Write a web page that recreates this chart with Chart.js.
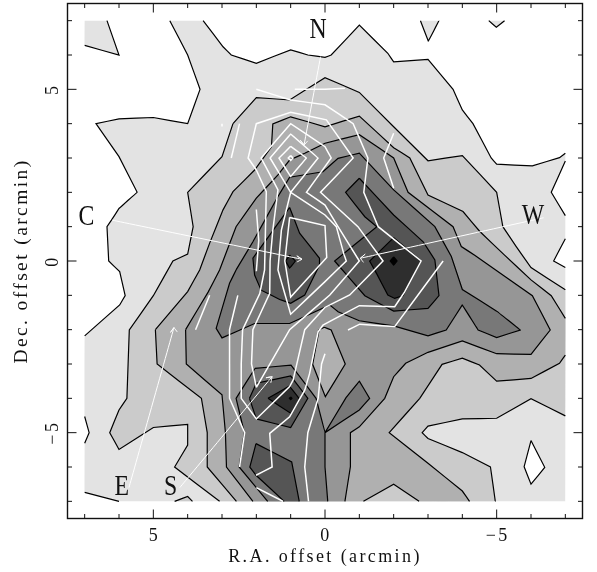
<!DOCTYPE html>
<html>
<head>
<meta charset="utf-8">
<title>Contour map</title>
<script src="https://cdn.jsdelivr.net/npm/chart.js@4/dist/chart.umd.min.js"></script>
<style>
  html, body { margin: 0; padding: 0; background: #fff; }
  canvas { display: block; }
</style>
</head>
<body>
<canvas id="map" width="597" height="572"></canvas>
<script>
// all coordinates are arcmin offsets
const gridEdge = 7;
const axisMax = 7.5;
const labelTicks = [5, 0, -5];
const minorTicks = [-7, -6, -5, -4, -3, -2, -1, 0, 1, 2, 3, 4, 5, 6, 7];
const xTitle = 'R.A. offset (arcmin)';
const yTitle = 'Dec. offset (arcmin)';

// grey contours, lightest level first
const level1 = [[4.52,7],[3.55,7],[2.97,6.24],[2.73,6],[2,5.76],[1,6.15],[0.5,6],[0,5.93],[-0.18,6],[-1,6.87],[-1.83,6.05],[-2,5.8],[-3,5.87],[-3.73,5],[-4,4.4],[-4.31,4],[-4.84,3],[-5,2.82],[-6.04,2.77],[-6.83,3.01],[-7,3.14],[-7,2.91],[-6.59,2],[-7,1.32],[-7,0.65],[-6.66,0],[-7,-0.19],[-7,-7],[6,-7],[7,-6.74],[7,-5.31],[6.87,-5],[7,-4.53],[7,-2.18],[5.98,-1.28],[5.82,-1.01],[5.98,-0.31],[6.3,0],[6.35,1],[6.22,1.19],[6,1.53],[5.47,2],[6,3.04],[6.67,4],[6,4.14],[5,4.18],[4,4],[3.64,5],[4,6],[4.52,7]];
const level1Corner = [[7,7],[6.35,7],[6,6],[7,6.28],[7,7]];
const level1TopA = [[-2.78,7],[-3.32,7],[-3.01,6.4],[-2.78,7]];
const level1TopB = [[-4.77,7],[-5.23,7],[-4.99,6.81],[-4.77,7]];
const holeDiamond = [[-6,-5.23],[-5.8,-5.99],[-6,-6.5],[-6.4,-6.01],[-6,-5.23]];
const level2 = [[2.68,4],[2,4.76],[1.03,4.69],[0,5.34],[-1,4.91],[-2,3.91],[-3,2.92],[-4,3.07],[-5,2],[-5.18,1],[-5.57,0.42],[-6,-0.19],[-7,-0.84],[-7,-4.51],[-6,-4.01],[-5,-4.58],[-4,-4.6],[-3,-4.81],[-2.83,-5],[-3,-5.17],[-4,-5.58],[-4.82,-6],[-4.96,-7],[3.07,-7],[4.38,-6],[4,-5.36],[4,-4.76],[5,-4.85],[6,-5.49],[6.27,-5],[6,-4.34],[5.77,-4],[5.7,-2.01],[5,-1.01],[4.43,0],[4,0.2],[3.84,1],[4,2],[3,3.04],[2.68,4]];
const level2Bump = [[4.38,-7],[4,-6.86],[3.86,-7],[4.38,-7]];
const level3 = [[4.94,-2],[4.89,-3],[3.6,-4],[3.43,-5],[3.43,-6],[2.58,-7],[-1.12,-7],[-2,-6.5],[-2.74,-7],[-4.21,-7],[-4,-6.7],[-3,-5.89],[-1.87,-5],[-2.76,-4],[-3.41,-3.01],[-4,-2.83],[-4.5,-3.03],[-5,-3.5],[-6,-3.42],[-6.83,-2.98],[-7,-2.74],[-7,-1.67],[-6.59,-1.01],[-6,-0.55],[-5.23,0.17],[-4.51,0.86],[-4.02,1.44],[-3,1.92],[-2.47,3],[-2,3.3],[-1,4.22],[0,3.91],[1,4.2],[1.52,3.99],[1.56,3.33],[2.05,2.65],[2.68,2.02],[2.97,1.49],[3.36,0.52],[3.65,-0.26],[4,-0.89],[4.94,-2]];
const level4 = [[4.06,-2],[3.4,-0.9],[3.07,-0.26],[2.59,1],[2,1.83],[1.37,2.51],[1.03,2.94],[0.59,3.14],[0,3.43],[-1,3.68],[-2,3],[-2.42,2],[-3.73,1],[-3.97,0.42],[-4.36,0.17],[-6.04,-1.01],[-6.56,-2.01],[-6,-2.72],[-5,-2.7],[-4,-2.33],[-3,-2.66],[-2.35,-2.98],[-2,-3.37],[-1.74,-4],[-1,-4.83],[-0.74,-5],[-0.74,-5.99],[-0.58,-7],[2.1,-7],[2.87,-6],[2.9,-5],[3,-3.9],[4.04,-3],[4.06,-2]];
const level3Island = [[0.02,-1.93],[-0.18,-2.01],[-0.59,-3],[-0.01,-3.95],[0.36,-3.01],[0.17,-2],[0.02,-1.93]];
const level5North = [[2.59,-0.26],[2.1,0.56],[1.37,1.88],[1.03,2.44],[0.06,2.6],[-0.38,2.99],[-1,3.14],[-2,2.07],[-3.2,1],[-3.68,0.13],[-4,-0.83],[-5,-1.46],[-5.69,-2.01],[-5,-2.23],[-4.46,-2.01],[-4,-1.28],[-3.53,-2.01],[-3,-2.18],[-2,-1.89],[-1,-1.74],[-0.38,-1.48],[-0.14,-1.28],[1.03,-1.82],[2.05,-1.82],[3,-2.24],[3.17,-1.96],[2.78,-0.65],[2.59,-0.26]];
const level5South = [[2.04,-3.13],[0.99,-3.03],[0.26,-4],[0,-5],[-0.6,-4],[-1,-3.5],[-1.3,-4],[-1,-4.34],[0,-5],[0,-6],[-0.08,-7],[1.67,-7],[2.5,-6],[2.35,-5],[2.59,-4],[2.04,-3.13]];
const level6East = [[-1,2.41],[-2,1.34],[-2.86,0.56],[-3.2,0.03],[-3.32,-1.01],[-3,-1.38],[-2,-1.46],[-1.16,-1.01],[-0.28,0],[-1.51,1],[-1.16,1.29],[-0.6,2],[-1,2.41]];
const level6West = [[1.03,1.56],[0.74,0.81],[0.16,0.08],[0.16,-0.12],[0.59,-0.99],[1,-1.23],[1.32,-1.12],[1.86,-0.85],[2.05,-0.41],[2.1,0.08],[1.03,1.56]];
const level6Mid = [[2.2,-4],[2,-3.56],[1,-3.35],[0.5,-4],[1,-4.85],[2,-4.6],[2.2,-4]];
const level6South = [[2.01,-5.32],[2.19,-6],[2.01,-6.24],[1.19,-7],[0.75,-7],[0.97,-5.85],[2.01,-5.32]];
const level7East = [[-2,0.68],[-2.8,0],[-2.27,-1.01],[-2.03,-1.09],[-1.83,-0.99],[-1.5,-0.36],[-1.3,0],[-2,0.68]];
const level7West = [[1.03,0.17],[0.86,0],[1.03,-0.21],[1.15,0],[1.03,0.17]];
const level7Mid = [[1.66,-4],[1.04,-3.64],[0.73,-4.03],[0.99,-4.44],[1.66,-4]];
const peakEast = [[-2,0.12],[-2.1,0],[-2,-0.12],[-1.9,0],[-2,0.12]];
const peakMid = [[1,-3.96],[0.96,-4],[1,-4.04],[1.04,-4],[1,-3.96]];

// paint order, bottom to top
const greyLevels = [
  [level1, '#e3e3e3'], [level1Corner, '#e3e3e3'], [level1TopA, '#e3e3e3'], [level1TopB, '#e3e3e3'], [holeDiamond, '#ffffff'],
  [level2, '#cbcbcb'], [level2Bump, '#cbcbcb'],
  [level3, '#b0b0b0'],
  [level4, '#969696'], [level3Island, '#b0b0b0'],
  [level5North, '#787878'], [level5South, '#787878'],
  [level6East, '#555555'], [level6West, '#555555'], [level6Mid, '#555555'], [level6South, '#555555'],
  [level7East, '#2e2e2e'], [level7West, '#2e2e2e'], [level7Mid, '#2e2e2e'],
  [peakEast, '#000000'], [peakMid, '#000000']
];

// white contours
const whiteOuter = [[2,5],[1,4.69],[0,4.55],[-0.82,4],[-1.25,3],[-1.13,2],[-1.55,1],[-2.8,0],[-2.32,-0.9],[-2.03,-1.33],[-1,-1.3],[0.06,-1.87],[0.2,-2.06],[0.45,-3.28],[0.59,-3.76],[1.03,-4.54],[1.61,-5.02],[1.54,-6],[2.01,-6.24]];
const whiteC = [[2,2.65],[2.24,3],[2,4],[1,4.33],[-0.04,4.11],[-0.82,3],[0.13,2],[-0.96,1],[-1.69,0],[-0.72,-0.99],[0,-1.35],[0.59,-2],[0.93,-3.47],[1.03,-3.66],[2,-4.6],[2.44,-4],[2.44,-3],[2.4,-2],[1.9,-0.95],[1.76,-0.26],[1.71,2.02],[2,2.65]];
const whiteRing4 = [[2,-3.68],[2.14,-3],[2.1,-2],[1.61,-0.94],[1.6,0],[1.52,0.9],[1.37,2.07],[1.86,3],[1,4],[0,3.33],[-0.18,3],[0.54,2],[0,1.63],[-0.38,1],[-1,0],[-0.14,-0.99],[1.03,-2],[2,-3.68]];
const whiteRing3 = [[1,2],[1.6,3],[1,3.7],[0.2,3],[1,2],[0,1.34],[-0.33,1],[-0.55,0.2],[-0.62,0],[0,-0.6],[1,-1.55],[1.37,-0.26],[1.27,0.9],[1,2]];
const whiteRing2 = [[1,3.34],[0.54,3],[1,2.46],[1.34,3],[1,3.34]];
const whiteRing1 = [[1,3.07],[0.93,3],[1,2.93],[1.07,3],[1,3.07]];
const whiteInner = [[1.03,1.27],[0,1.03],[-0.05,0.1],[1,-1.05],[1.17,0],[1.03,1.27]];
const whiteV = [[2.54,-1],[2.78,-2],[2.78,-4],[2.34,-5],[2.49,-6]];
const whiteVii = [[0.48,-7],[0.59,-6],[0.5,-5],[0.2,-4],[0.1,-3],[0,-2.7]];
const whiteSouth = [[2,-6.6],[1.22,-7]];
const whiteWest = [[3.77,-2],[3.36,-1]];
const whiteWestUp = [[2.49,4],[2.73,3]];
const whiteTick = [[3,4],[3,3.92]];
const whiteXi = [[2,1.5],[1.93,0.6],[2,-0.3]];
const whiteEast = [[-3.44,0],[-2.03,-1.91],[-1.01,-1.84],[-0.67,-2.01]];
const whiteEastUp = [[-2,3.72],[-1.71,3],[-2,2.12]];
const whiteTop = [[0.88,5],[0,5],[-0.58,5.03]];
const whiteContours = [whiteOuter, whiteC, whiteRing4, whiteRing3, whiteRing2, whiteRing1, whiteInner, whiteV, whiteVii, whiteSouth, whiteWest, whiteWestUp, whiteTick, whiteXi, whiteEast, whiteEastUp, whiteTop];

// arrows: start, tip, barb, tip, barb
const arrowN = [[0.13,5.95],[0.61,3.38],[0.72,3.52],[0.61,3.38],[0.5,3.5]];
const arrowC = [[6.2,1.19],[0.67,0.05],[0.82,0.15],[0.67,0.05],[0.82,-0.03]];
const arrowW = [[-6.37,1.26],[-1.03,0.08],[-1.17,0.2],[-1.03,0.08],[-1.12,-0.04]];
const arrowE = [[5.71,-6.6],[4.4,-1.94],[4.5,-2.08],[4.4,-1.94],[4.3,-2.07]];
const arrowS = [[4.23,-6.6],[1.54,-3.37],[1.72,-3.4],[1.54,-3.37],[1.58,-3.55]];
const arrows = [arrowN, arrowC, arrowW, arrowE, arrowS];

const markerLetters = ['N', 'C', 'W', 'E', 'S'];
const markerX = [0.2, 6.95, -6.06, 5.92, 4.5];
const markerY = [6.73, 1.28, 1.31, -6.6, -6.6];

const serif = '"Liberation Serif", "DejaVu Serif", serif';

function toPoints(list) {
    return list.map(p => ({ x: p[0], y: p[1] }));
}

// the data stops at the grid edge, no contour is drawn along it
function onGridEdge(a, b) {
    return (Math.abs(a.x) === gridEdge && a.x === b.x) || (Math.abs(a.y) === gridEdge && a.y === b.y);
}

function buildDatasets() {
    const out = [];
    greyLevels.forEach(([shape, colour]) => {
        // fill and outline are separate, 'shape' fill breaks if the line has segment styles
        out.push({
            data: toPoints(shape), showLine: true, fill: 'shape', backgroundColor: colour,
            borderWidth: 0, tension: 0.001, pointRadius: 0
        });
        out.push({
            data: toPoints(shape), showLine: true, fill: false, borderColor: '#000', borderWidth: 1.2,
            tension: 0.001, pointRadius: 0,
            segment: { borderColor: ctx => onGridEdge(ctx.p0.parsed, ctx.p1.parsed) ? 'rgba(0,0,0,0)' : '#000' }
        });
    });
    whiteContours.forEach(line => {
        out.push({ data: toPoints(line), showLine: true, fill: false, borderColor: '#fff', borderWidth: 1.5, tension: 0.001, pointRadius: 0 });
    });
    arrows.forEach(line => {
        out.push({ data: toPoints(line), showLine: true, fill: false, borderColor: '#fff', borderWidth: 1, tension: 0.001, pointRadius: 0 });
    });
    // chart.js draws the first dataset last
    return out.reverse();
}

// frame, inward ticks on all sides and the N/C/W/E/S letters
const framePlugin = {
    id: 'frame',
    beforeDraw(chart) {
        chart.ctx.letterSpacing = '2.4px';
    },
    afterDatasetsDraw(chart) {
        const { ctx, chartArea: a, scales: { x, y } } = chart;
        ctx.save();
        ctx.strokeStyle = '#111';
        ctx.lineWidth = 1;
        ctx.beginPath();
        minorTicks.forEach(v => {
            const len = v % 5 === 0 ? 9 : 4.5;
            const px = x.getPixelForValue(v);
            const py = y.getPixelForValue(v);
            ctx.moveTo(px, a.top); ctx.lineTo(px, a.top + len);
            ctx.moveTo(px, a.bottom); ctx.lineTo(px, a.bottom - len);
            ctx.moveTo(a.left, py); ctx.lineTo(a.left + len, py);
            ctx.moveTo(a.right, py); ctx.lineTo(a.right - len, py);
        });
        ctx.stroke();
        ctx.lineWidth = 1.4;
        ctx.strokeRect(a.left, a.top, a.right - a.left, a.bottom - a.top);

        // the letters in the picture are narrow and tall
        ctx.fillStyle = '#111';
        ctx.font = '29px ' + serif;
        ctx.letterSpacing = '0px';
        ctx.textAlign = 'center';
        ctx.textBaseline = 'middle';
        markerLetters.forEach((t, i) => {
            ctx.save();
            ctx.translate(x.getPixelForValue(markerX[i]), y.getPixelForValue(markerY[i]));
            ctx.scale(0.82, 1);
            ctx.fillText(t, 0, 0);
            ctx.restore();
        });
        ctx.restore();
    }
};

const sharedTicks = axis => { axis.ticks = labelTicks.map(v => ({ value: v })); };
const tickText = v => (v < 0 ? '\u2212' + Math.abs(v) : String(v));
// tick labels must not push the frame in
const noScalePadding = s => { s.paddingTop = 0; s.paddingBottom = 0; s.paddingLeft = 0; s.paddingRight = 0; };

new Chart(document.getElementById('map'), {
    type: 'scatter',
    data: { datasets: buildDatasets() },
    plugins: [framePlugin],
    options: {
        responsive: false,
        animation: false,
        layout: { padding: { left: 0, right: 14.5, top: 3.5, bottom: 0 } },
        plugins: { legend: { display: false }, tooltip: { enabled: false } },
        scales: {
            x: {
                type: 'linear', reverse: true, min: -axisMax, max: axisMax,
                afterBuildTicks: sharedTicks,
                afterFit: s => { s.height = 53.5; noScalePadding(s); },
                grid: { display: false, drawTicks: false },
                border: { display: false },
                ticks: { color: '#111', font: { family: serif, size: 18 }, padding: 7, maxRotation: 0, labelOffset: 1, callback: tickText },
                title: { display: true, text: xTitle, color: '#111', font: { family: serif, size: 18 }, padding: { top: 0, bottom: 4 } }
            },
            y: {
                type: 'linear', min: -axisMax, max: axisMax,
                afterBuildTicks: sharedTicks,
                afterFit: s => { s.width = 67.5; noScalePadding(s); },
                grid: { display: false, drawTicks: false },
                border: { display: false },
                ticks: { color: '#111', font: { family: serif, size: 18 }, padding: 5, crossAlign: 'center', minRotation: 90, maxRotation: 90, callback: tickText },
                title: { display: true, text: yTitle, color: '#111', font: { family: serif, size: 19.5 }, padding: { top: 10, bottom: 0 } }
            }
        }
    }
});
</script>
</body>
</html>
